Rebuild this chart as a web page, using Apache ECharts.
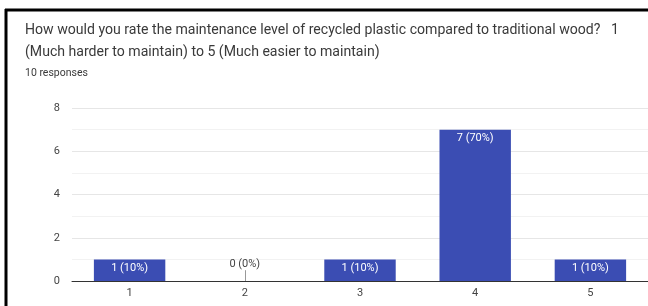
<!DOCTYPE html>
<html>
<head>
<meta charset="utf-8">
<script src="https://cdn.jsdelivr.net/npm/echarts@6/dist/echarts.min.js"></script>
<style>
  html, body { margin: 0; padding: 0; background: #fff; }
  #chart { width: 648px; height: 306px; }
</style>
</head>
<body>
<div id="chart"></div>
<script>
// survey answers (rating 1..5) and how many picked each
var ratings = ['1', '2', '3', '4', '5'];
var counts = [1, 0, 1, 7, 1];
var yTicks = [0, 2, 4, 6, 8];

var questionText = 'How would you rate the maintenance level of recycled plastic compared to traditional wood?   1\n(Much harder to maintain) to 5 (Much easier to maintain)';

var total = counts.reduce(function (a, b) { return a + b; }, 0);
var barColor = '#3b4db3';

var chart = echarts.init(document.getElementById('chart'));

// zero answers get a label above the axis with a small stem, like Forms does
var barData = counts.map(function (v) {
  if (v === 0) {
    return {
      value: v,
      label: { position: 'top', distance: 11, color: '#444' }
    };
  }
  return v;
});
var stems = [];
counts.forEach(function (v, i) {
  if (v === 0) stems.push([{ coord: [ratings[i], 0] }, { coord: [ratings[i], 0.5] }]);
});

var option = {
  animation: false,
  title: [{
    text: questionText,
    left: 20,
    top: 14,
    textStyle: { fontFamily: 'Roboto', fontSize: 14.1, fontWeight: 'normal', color: '#3a3a3a', lineHeight: 22 }
  }, {
    text: total + ' responses',
    left: 20,
    top: 63,
    textStyle: { fontFamily: 'Roboto', fontSize: 10.5, fontWeight: 'normal', color: '#3a3a3a' }
  }],
  graphic: [
    { type: 'line', shape: { x1: 6, y1: 9, x2: 6, y2: 306 }, style: { stroke: '#000', lineWidth: 3 } },
    { type: 'line', shape: { x1: 5, y1: 10, x2: 648, y2: 10 }, style: { stroke: '#000', lineWidth: 3 } }
  ],
  grid: { left: 72, right: -3, top: 108, bottom: 25 },
  xAxis: {
    type: 'category',
    data: ratings,
    axisLine: { lineStyle: { color: '#333', width: 1 } },
    axisTick: { show: false },
    axisLabel: { fontFamily: 'Roboto', fontSize: 11, color: '#444', margin: 7 }
  },
  yAxis: {
    type: 'value',
    min: yTicks[0],
    max: yTicks[yTicks.length - 1],
    interval: 2,
    axisLine: { show: false },
    axisTick: { show: false },
    axisLabel: { fontFamily: 'Roboto', fontSize: 11, color: '#444', margin: 12 },
    splitLine: { lineStyle: { color: '#e6e6e6' } },
    minorTick: { show: false, splitNumber: 2 },
    minorSplitLine: { show: true, lineStyle: { color: '#f2f2f2' } }
  },
  series: [{
    type: 'bar',
    data: barData,
    barWidth: '62%',
    itemStyle: { color: barColor },
    label: {
      show: true,
      position: 'insideTop',
      distance: 3,
      color: '#fff',
      fontFamily: 'Roboto',
      fontSize: 11,
      formatter: function (p) {
        return p.value + ' (' + Math.round(p.value / total * 100) + '%)';
      }
    },
    markLine: {
      silent: true,
      symbol: 'none',
      label: { show: false },
      lineStyle: { color: '#999', width: 1, type: 'solid' },
      data: stems
    }
  }]
};

chart.setOption(option);
</script>
</body>
</html>
